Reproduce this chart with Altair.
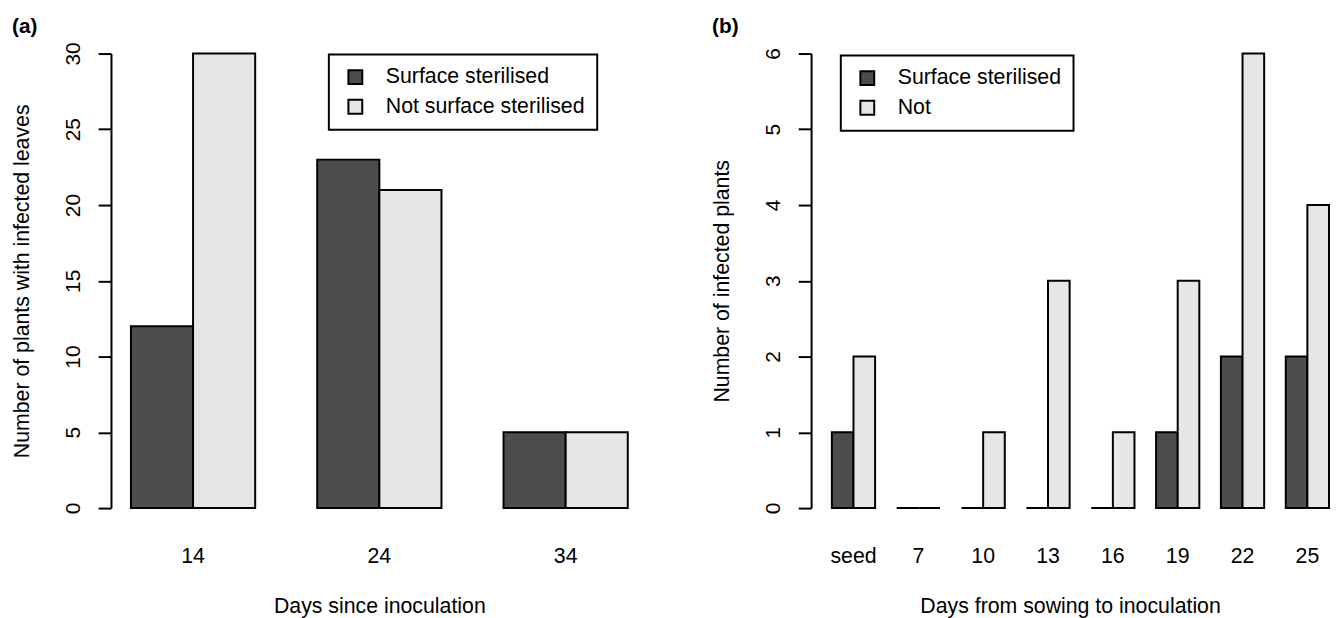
import altair as alt
import pandas as pd

# ---- data ----
days_a = ["14", "24", "34"]
ster_a = [12, 23, 5]
not_a = [30, 21, 5]
series_a = ["Surface sterilised", "Not surface sterilised"]

days_b = ["seed", "7", "10", "13", "16", "19", "22", "25"]
ster_b = [1, 0, 0, 0, 0, 1, 2, 2]
not_b = [2, 0, 1, 3, 1, 3, 6, 4]
series_b = ["Surface sterilised", "Not"]

colors = ["#4d4d4d", "#e6e6e6"]
FONT = "Liberation Sans"
FS = 21.5

def long(days, s1, s2, names):
    rows = []
    for d, a, b in zip(days, s1, s2):
        rows.append({"day": d, "series": names[0], "count": a})
        rows.append({"day": d, "series": names[1], "count": b})
    return pd.DataFrame(rows)

df_a = long(days_a, ster_a, not_a, series_a)
df_b = long(days_b, ster_b, not_b, series_b)

def y_axis(title, values):
    return alt.Axis(title=title, values=values, grid=False, domainColor="black",
                    domainWidth=2, tickColor="black", tickWidth=2, tickSize=13,
                    labelAngle=270, labelAlign="center", labelBaseline="bottom",
                    labelPadding=15, labelFontSize=21, labelColor="black",
                    labelFont=FONT, titleFont=FONT, titleFontSize=FS,
                    titleFontWeight="normal", titleColor="black", titlePadding=29)

def x_axis(title, **kw):
    return alt.Axis(title=title, domain=False, ticks=False, labelAngle=0,
                    labelFontSize=FS, labelColor="black", labelFont=FONT,
                    labelPadding=38, titleFont=FONT, titleFontSize=FS,
                    titleFontWeight="normal", titleColor="black", titlePadding=29, **kw)

def legend(x, y):
    return alt.Legend(title=None, orient="none", legendX=x, legendY=y,
                      symbolType="square", symbolSize=196, symbolStrokeColor="black",
                      symbolStrokeWidth=2, symbolOpacity=1, symbolOffset=4,
                      labelFontSize=FS, labelFont=FONT, labelColor="black",
                      labelOffset=20, labelLimit=0, rowPadding=7,
                      strokeColor="black", padding=12)

def title(txt, off):
    return alt.TitleParams(txt, anchor="start", frame="bounds", fontSize=21,
                           fontWeight="bold", font=FONT, color="black", offset=off)

chart_a = alt.Chart(df_a).mark_bar(stroke="black", strokeWidth=2, opacity=1).encode(
    x=alt.X("day:N", sort=days_a,
            scale=alt.Scale(paddingInner=0.333, paddingOuter=0.107),
            axis=x_axis("Days since inoculation")),
    xOffset=alt.XOffset("series:N", sort=series_a),
    y=alt.Y("count:Q", scale=alt.Scale(domain=[0, 30], nice=False, zero=True),
            axis=y_axis("Number of plants with infected leaves", [0, 5, 10, 15, 20, 25, 30])),
    color=alt.Color("series:N", sort=series_a,
                    scale=alt.Scale(domain=series_a, range=colors),
                    legend=legend(220, 1)),
).properties(width=542, height=459, title=title("(a)", 5))

chart_b = alt.Chart(df_b).mark_bar(stroke="black", strokeWidth=2, opacity=1).encode(
    x=alt.X("day:N", sort=days_b,
            scale=alt.Scale(paddingInner=0.333, paddingOuter=0.16, align=1),
            axis=x_axis("Days from sowing to inoculation")),
    xOffset=alt.XOffset("series:N", sort=series_b),
    y=alt.Y("count:Q", scale=alt.Scale(domain=[0, 6], nice=False, zero=True),
            axis=y_axis("Number of infected plants", [0, 1, 2, 3, 4, 5, 6])),
    color=alt.Color("series:N", sort=series_b,
                    scale=alt.Scale(domain=series_b, range=colors),
                    legend=legend(30, 2)),
).properties(width=523, height=459, title=title("(b)", 11))

chart = alt.hconcat(chart_a, chart_b, spacing=65).resolve_scale(
    color="independent", xOffset="independent"
).resolve_legend(color="independent").properties(
    padding={"left": 4, "top": 5, "right": 0, "bottom": 0}
).configure_view(stroke=None).configure_legend(strokeWidth=2)

chart.save("out.html", embed_options={"renderer": "svg", "actions": False})
